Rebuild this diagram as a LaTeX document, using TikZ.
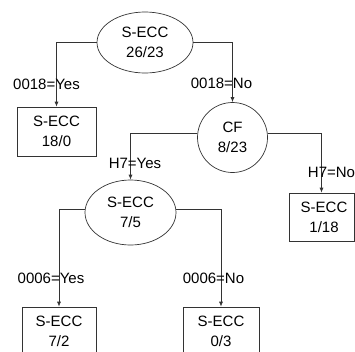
\documentclass[tikz,border=0pt]{standalone}
\usepackage{fontspec}
\setmainfont{Liberation Sans}
\usetikzlibrary{shapes.geometric,arrows.meta}
\begin{document}
\begin{tikzpicture}[x=1pt,y=-1pt,
  every node/.style={font=\fontsize{15}{20}\selectfont, text=black, inner sep=0pt},
  oval/.style={ellipse, draw=black!80, line width=0.7pt, align=center},
  round/.style={circle, draw=black!80, line width=0.7pt, align=center},
  leaf/.style={rectangle, draw=black!80, line width=0.7pt, align=center},
  conn/.style={draw=black!80, line width=0.7pt, -{Latex[length=5pt,width=4pt]}},
  lbl/.style={anchor=center}]
\useasboundingbox (0,0) rectangle (355,351);
\clip (0,0) rectangle (355,351);
% nodes
\node[oval, minimum width=96pt, minimum height=61pt] (root) at (145,42.5) {S-ECC\\26/23};
\node[leaf, minimum width=79pt, minimum height=49pt] (leafA) at (56.5,131.5) {S-ECC\\18/0};
\node[round, minimum size=70pt] (cf) at (232.5,137.5) {CF\\8/23};
\node[oval, minimum width=91pt, minimum height=65pt] (e75) at (130.5,212.5) {S-ECC\\7/5};
\node[leaf, minimum width=65pt, minimum height=48pt, text width=65pt] (leafB) at (321.5,217) {\hspace*{5pt}S-ECC\\\hspace*{5pt}1/18};
\node[leaf, minimum width=74pt, minimum height=49pt] (leafC) at (59,331.5) {S-ECC\\7/2};
\node[leaf, minimum width=76pt, minimum height=49pt] (leafD) at (221,331.5) {S-ECC\\0/3};
% connectors
\draw[conn] (root.west) -| (leafA.north);
\draw[conn] (root.east) -| (cf.north);
\draw[conn] (cf.173) -| (e75.north);
\draw[conn] (cf.7) -| (leafB.north);
\draw[conn] (e75.176) -| (leafC.north);
\draw[conn] (e75.4) -| (leafD.north);
% labels
\node[lbl] (l1) at (46.5,84) {0018=Yes};
\node[lbl] (l2) at (221.5,83) {0018=No};
\node[lbl] (l3) at (135,163) {H7=Yes};
\node[lbl] (l4) at (331.5,172) {H7=No};
\node[lbl] (l5) at (51,278) {0006=Yes};
\node[lbl] (l6) at (213.5,278) {0006=No};
\end{tikzpicture}
\end{document}
